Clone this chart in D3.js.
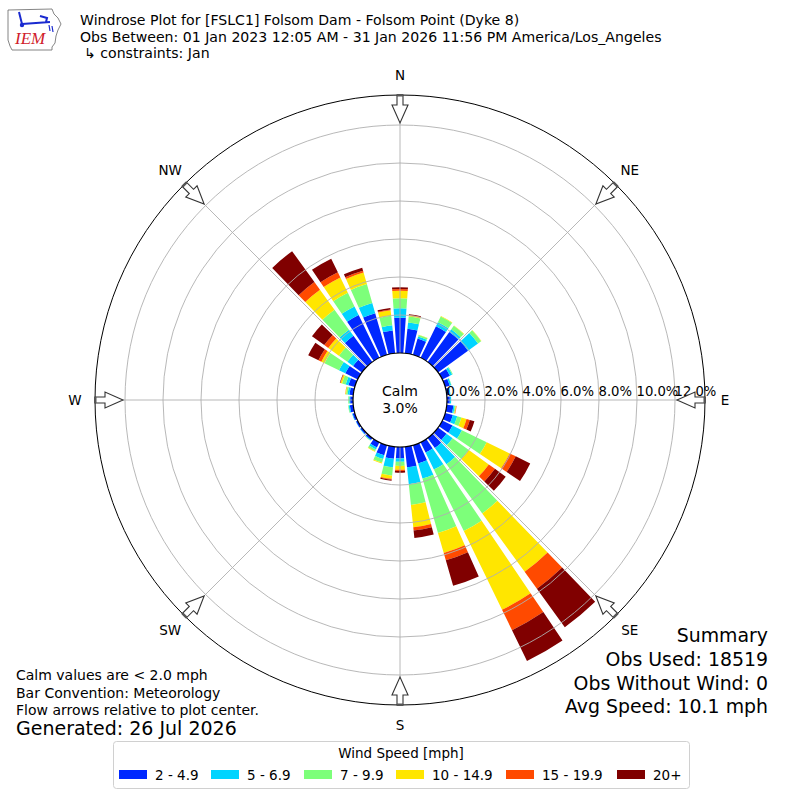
<!DOCTYPE html>
<html>
<head>
<meta charset="utf-8">
<script src="https://cdn.jsdelivr.net/npm/d3@7"></script>
<style>
  body { margin: 0; background: #fff; }
  svg { display: block; font-family: "DejaVu Sans", sans-serif; }
</style>
</head>
<body>
<svg id="chart" width="800" height="800"></svg>
<script>
// --- data (percent of obs per direction / speed bin)
const directions = [0, 10, 20, 30, 40, 50, 60, 70, 80, 90, 100, 110, 120, 130, 140, 150, 160, 170,
                    180, 190, 200, 210, 220, 230, 240, 250, 260, 270, 280, 290, 300, 310, 320, 330, 340, 350];
const speedBins = ['2 - 4.9', '5 - 6.9', '7 - 9.9', '10 - 14.9', '15 - 19.9', '20+'];
const binColors = ['#0028ff', '#00d4ff', '#7dff7a', '#ffe600', '#ff4a00', '#800000'];

const spd2to5   = [1.86, 1.30, 0.89, 1.85, 1.95, 1.95, 0.45, 0.25, 0.15, 0.15, 0.35, 0.42, 0.60, 0.55, 0.65, 0.60, 1.00, 1.09,
                   0.60, 0.64, 0.55, 0.30, 0.12, 0.10, 0.10, 0.12, 0.18, 0.15, 0.20, 0.35, 0.73, 0.58, 1.70, 2.50, 2.28, 1.21];
const spd5to7   = [0.49, 0.33, 0.11, 0.23, 0.17, 0.65, 0.13, 0.08, 0.05, 0.07, 0.07, 0.24, 0.55, 0.40, 1.05, 1.00, 0.83, 0.89,
                   0.18, 0.45, 0.20, 0.12, 0.04, 0.03, 0.02, 0.03, 0.06, 0.05, 0.10, 0.15, 0.37, 0.37, 0.40, 0.50, 0.56, 0.27];
const spd7to10  = [0.53, 0.32, 0.08, 0.34, 0.23, 0.20, 0.04, 0.02, 0.00, 0.00, 0.05, 0.23, 1.45, 1.05, 3.20, 3.60, 2.97, 1.10,
                   0.22, 0.44, 0.20, 0.10, 0.02, 0.00, 0.00, 0.00, 0.03, 0.05, 0.08, 0.20, 0.85, 0.55, 1.30, 0.80, 1.03, 0.50];
const spd10to15 = [0.40, 0.05, 0.02, 0.03, 0.02, 0.02, 0.00, 0.00, 0.00, 0.00, 0.03, 0.28, 1.35, 1.30, 3.80, 4.60, 1.10, 1.18,
                   0.20, 0.17, 0.05, 0.04, 0.00, 0.00, 0.00, 0.00, 0.00, 0.00, 0.04, 0.08, 0.18, 0.69, 1.30, 0.90, 0.63, 0.30];
const spd15to20 = [0.09, 0.03, 0.00, 0.00, 0.00, 0.00, 0.00, 0.00, 0.00, 0.00, 0.02, 0.18, 0.35, 0.40, 1.10, 1.20, 0.40, 0.17,
                   0.06, 0.05, 0.00, 0.00, 0.00, 0.00, 0.00, 0.00, 0.00, 0.00, 0.01, 0.02, 0.17, 0.26, 0.50, 0.30, 0.10, 0.04];
const spd20plus = [0.09, 0.04, 0.00, 0.00, 0.00, 0.00, 0.00, 0.00, 0.00, 0.00, 0.00, 0.25, 0.85, 0.70, 2.50, 1.80, 1.40, 0.40,
                   0.09, 0.05, 0.00, 0.00, 0.00, 0.00, 0.00, 0.00, 0.00, 0.00, 0.00, 0.02, 0.60, 0.80, 2.00, 0.80, 0.17, 0.07];

const ringTicks   = [0, 2, 4, 6, 8, 10, 12];
const compass     = ['N', 'NE', 'E', 'SE', 'S', 'SW', 'W', 'NW'];
const compassDeg  = [0, 45, 90, 135, 180, 225, 270, 315];
const calmPct     = 3.0;

const titleLines = [
  'Windrose Plot for [FSLC1] Folsom Dam - Folsom Point (Dyke 8)',
  'Obs Between: 01 Jan 2023 12:05 AM - 31 Jan 2026 11:56 PM America/Los_Angeles',
  '\u21b3 constraints: Jan'
];
const noteLines    = ['Calm values are < 2.0 mph', 'Bar Convention: Meteorology', 'Flow arrows relative to plot center.'];
const summaryLines = ['Summary', 'Obs Used: 18519', 'Obs Without Wind: 0', 'Avg Speed: 10.1 mph'];


const svg = d3.select('#chart');
const cx = 400, cy = 400;
const outerR = 305;

const rScale = d3.scaleLinear().domain([0, 12]).range([47, 275]);
const deg = d => d * Math.PI / 180;

// build table for stacking
const series = [spd2to5, spd5to7, spd7to10, spd10to15, spd15to20, spd20plus];
const table = directions.map((d, i) => {
  const row = { dir: d };
  speedBins.forEach((b, j) => { row[b] = series[j][i]; });
  return row;
});
const stacked = d3.stack().keys(speedBins)(table);

const plot = svg.append('g').attr('transform', `translate(${cx},${cy})`);

// bars
const halfW = 4.05;
const arc = d3.arc();
stacked.forEach((layer, j) => {
  plot.append('g')
    .selectAll('path')
    .data(layer.filter(d => d[1] - d[0] > 0))
    .enter().append('path')
      .attr('fill', binColors[j])
      .attr('d', d => arc({
        innerRadius: rScale(d[0]),
        outerRadius: rScale(d[1]),
        startAngle: deg(d.data.dir - halfW),
        endAngle: deg(d.data.dir + halfW)
      }));
});

// grid on top of bars (matplotlib default)
const grid = plot.append('g').attr('fill', 'none').attr('stroke', '#b0b0b0').attr('stroke-width', 0.9);
grid.selectAll('circle').data(ringTicks.slice(1))
  .enter().append('circle')
    .attr('r', d => rScale(d));
grid.selectAll('line').data(compassDeg)
  .enter().append('line')
    .attr('x1', 0).attr('y1', 0)
    .attr('x2', d => outerR * Math.sin(deg(d)))
    .attr('y2', d => -outerR * Math.cos(deg(d)));

plot.append('circle').attr('r', outerR).attr('fill', 'none').attr('stroke', '#000').attr('stroke-width', 1);

// calm circle
plot.append('circle').attr('r', rScale(0)).attr('fill', '#fff').attr('stroke', '#000').attr('stroke-width', 1.2);
plot.append('text').attr('text-anchor', 'middle').attr('y', -4).attr('font-size', 14).text('Calm');
plot.append('text').attr('text-anchor', 'middle').attr('y', 13).attr('font-size', 14).text(calmPct.toFixed(1) + '%');

// radial labels
plot.append('g').selectAll('text').data(ringTicks)
  .enter().append('text')
    .attr('x', d => rScale(d) - 0.5)
    .attr('y', -4)
    .attr('font-size', 13.2)
    .text(d => d.toFixed(1) + '%');

// hollow flow arrows pointing to centre
const arrowPts = [[-3, -305], [3, -305], [3, -295], [8, -295], [0, -277], [-8, -295], [-3, -295]];
const arrows = plot.append('g').selectAll('g').data(compassDeg)
  .enter().append('g')
    .attr('transform', d => `rotate(${d})`);
arrows.append('polygon')
  .attr('points', arrowPts.map(p => p.join(',')).join(' '))
  .attr('fill', '#fff').attr('stroke', '#333').attr('stroke-width', 1.1);
arrows.append('rect')
  .attr('x', -3).attr('y', -306).attr('width', 6).attr('height', 2.5)
  .attr('fill', '#555');

// compass labels
plot.append('g').selectAll('text').data(compassDeg)
  .enter().append('text')
    .attr('x', d => 325 * Math.sin(deg(d)))
    .attr('y', d => -325 * Math.cos(deg(d)) + 5)
    .attr('text-anchor', 'middle')
    .attr('font-size', 13.5)
    .text((d, i) => compass[i]);

// header text
svg.append('g').selectAll('text').data(titleLines)
  .enter().append('text')
    .attr('x', (d, i) => i === 2 ? 84 : 80)
    .attr('y', (d, i) => 25 + i * 16.5)
    .attr('font-size', 14.1)
    .text(d => d);

// IEM logo (rough)
const logo = svg.append('g');
logo.append('path')
  .attr('d', 'M8,10 L52,9 L54,14 L58,18 L61,24 L58,30 L56,36 L55,43 L52,47 L52,50 L12,50 L10,46 L8,40 Z')
  .attr('fill', 'none').attr('stroke', '#666').attr('stroke-width', 0.8);
logo.append('path')
  .attr('d', 'M22,24 L50,22 M19,12 L22,24 M40,16 L47,18 L46,22')
  .attr('fill', 'none').attr('stroke', '#1a2ad0').attr('stroke-width', 2);
logo.append('circle').attr('cx', 22).attr('cy', 25).attr('r', 2.2).attr('fill', '#1a2ad0');
logo.append('path').attr('d', 'M49,25 L50,31 M52,26 L53,32').attr('stroke', '#1a2ad0').attr('stroke-width', 1.2);
logo.append('text')
  .attr('x', 15).attr('y', 44)
  .attr('font-family', '"Liberation Serif", serif')
  .attr('font-style', 'italic')
  .attr('font-size', 17)
  .attr('fill', '#d0202a')
  .text('IEM');

// notes bottom-left
svg.append('g').selectAll('text').data(noteLines)
  .enter().append('text')
    .attr('x', 16)
    .attr('y', (d, i) => 680 + i * 17.5)
    .attr('font-size', 14)
    .text(d => d);
svg.append('text').attr('x', 16).attr('y', 735).attr('font-size', 19).text('Generated: 26 Jul 2026');

// summary bottom-right
svg.append('g').selectAll('text').data(summaryLines)
  .enter().append('text')
    .attr('x', 768)
    .attr('y', (d, i) => 642 + i * 23.8)
    .attr('text-anchor', 'end')
    .attr('font-size', 18.9)
    .text(d => d);

// legend
const legend = svg.append('g');
legend.append('rect')
  .attr('x', 113.5).attr('y', 741.5).attr('width', 576).attr('height', 47).attr('rx', 3)
  .attr('fill', '#fff').attr('stroke', '#d0d0d0');
legend.append('text').attr('x', 401).attr('y', 757.5).attr('text-anchor', 'middle').attr('font-size', 13.5)
  .text('Wind Speed [mph]');
const swatchX = [119, 211, 304, 396, 506, 617];
const items = legend.selectAll('g.item').data(speedBins)
  .enter().append('g')
    .attr('class', 'item')
    .attr('transform', (d, i) => `translate(${swatchX[i]},770)`);
items.append('rect').attr('width', 28).attr('height', 9).attr('fill', (d, i) => binColors[i]);
items.append('text').attr('x', 36).attr('y', 9.5).attr('font-size', 13.5).text(d => d);
</script>
</body>
</html>
